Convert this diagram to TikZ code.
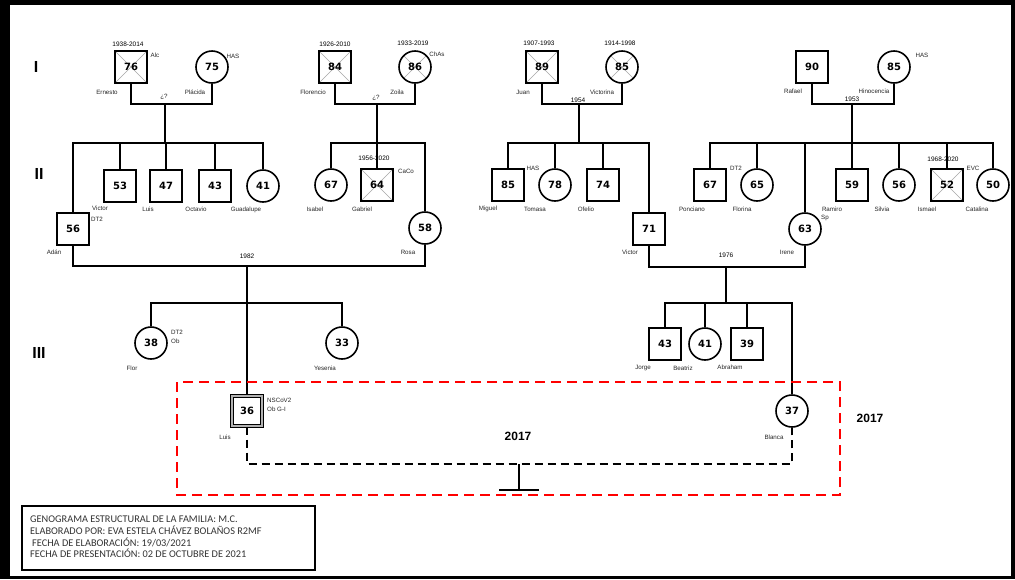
\documentclass[tikz,border=0pt]{standalone}
\usepackage{fontspec}
\setmainfont{Liberation Sans}
\newfontfamily\numfont{DejaVu Sans}
\newfontfamily\legfont{Carlito}
\begin{document}
\begin{tikzpicture}[x=1pt,y=-1pt,
  rel/.style={line width=1.6pt},
  ind/.style={draw, line width=1.6pt, minimum size=32pt, inner sep=0pt, font=\numfont\bfseries\fontsize{10}{10}\selectfont},
  male/.style={ind, rectangle},
  fem/.style={ind, circle},
  dead/.style={path picture={\draw[gray!70, line width=0.6pt] (path picture bounding box.north west) -- (path picture bounding box.south east) (path picture bounding box.north east) -- (path picture bounding box.south west);}},
  lbl/.style={font=\fontsize{6.2}{7}\selectfont, inner sep=0pt, text=black!85},
  yr/.style={font=\fontsize{6.5}{7}\selectfont, inner sep=0pt},
  gen/.style={font=\bfseries\fontsize{16}{16}\selectfont, inner sep=0pt},
  big/.style={font=\bfseries\fontsize{12}{12}\selectfont, inner sep=0pt},
  reddash/.style={draw=red, line width=1.6pt, dash pattern=on 10pt off 6pt},
  blkdash/.style={line width=1.6pt, dash pattern=on 8pt off 5pt}
]
\useasboundingbox (0,0) rectangle (1015,579);
\fill[black] (0,0) rectangle (1015,579);
\fill[white] (10,5) rectangle (1011,576);

% generation labels
\node[gen] (g1) at (36,67) {I};
\node[gen] (g2) at (39,174) {II};
\node[gen] (g3) at (39,353) {III};

% ---------- Generation I ----------
\node[male,dead] (ern) at (131,67) {76};
\node[fem] (pla) at (212,67) {75};
\node[male,dead] (flo) at (335,67) {84};
\node[fem,dead] (zoi) at (415,67) {86};
\node[male,dead] (jua) at (542,67) {89};
\node[fem,dead] (vto) at (622,67) {85};
\node[male] (raf) at (812,67) {90};
\node[fem] (hin) at (894,67) {85};

\node[yr] (t1) at (128,44) {1938-2014};
\node[lbl] (t2) at (155,55) {Alc};
\node[lbl] (t3) at (107,92) {Ernesto};
\node[lbl] (t4) at (195,92) {Plácida};
\node[lbl] (t5) at (233,56) {HAS};
\node[lbl] (t6) at (164,97) {¿?};
\node[yr] (t7) at (335,44) {1926-2010};
\node[yr] (t8) at (413,43) {1933-2019};
\node[lbl] (t9) at (437,54) {ChAs};
\node[lbl] (t10) at (313,92) {Florencio};
\node[lbl] (t11) at (397,92) {Zoila};
\node[lbl] (t12) at (376,98) {¿?};
\node[yr] (t13) at (539,43) {1907-1993};
\node[yr] (t14) at (620,43) {1914-1998};
\node[lbl] (t15) at (523,92) {Juan};
\node[lbl] (t16) at (602,92) {Victorina};
\node[yr] (t17) at (578,100) {1954};
\node[lbl] (t18) at (793,91) {Rafael};
\node[lbl] (t19) at (874,91) {Hinocencia};
\node[lbl] (t20) at (922,55) {HAS};
\node[yr] (t21) at (852,99) {1953};

% ---------- Generation II ----------
\node[male] (adan) at (73,229) {56};
\node[male] (vic1) at (120,186) {53};
\node[male] (luis1) at (166,186) {47};
\node[male] (oct) at (215,186) {43};
\node[fem] (gua) at (263,186) {41};
\node[fem] (isa) at (331,185) {67};
\node[male,dead] (gab) at (377,185) {64};
\node[fem] (rosa) at (425,228) {58};
\node[male] (mig) at (508,185) {85};
\node[fem] (tom) at (555,185) {78};
\node[male] (ofe) at (603,185) {74};
\node[male] (vic2) at (649,229) {71};
\node[male] (pon) at (710,185) {67};
\node[fem] (flr) at (757,185) {65};
\node[fem] (ire) at (805,229) {63};
\node[male] (ram) at (852,185) {59};
\node[fem] (sil) at (899,185) {56};
\node[male,dead] (ism) at (947,185) {52};
\node[fem] (cat) at (993,185) {50};

\node[lbl] (u1) at (100,208) {Victor};
\node[lbl] (u2) at (97,219) {DT2};
\node[lbl] (u3) at (148,209) {Luis};
\node[lbl] (u4) at (196,209) {Octavio};
\node[lbl] (u5) at (246,210) {Guadalupe};
\node[lbl] (u6) at (54,252) {Adán};
\node[yr] (u7) at (247,256) {1982};
\node[lbl] (u8) at (315,209) {Isabel};
\node[yr] (u9) at (374,158) {1956-2020};
\node[lbl] (u10) at (406,171) {CaCo};
\node[lbl] (u11) at (362,209) {Gabriel};
\node[lbl] (u12) at (408,252) {Rosa};
\node[lbl] (u13) at (488,209) {Miguel};
\node[lbl] (u14) at (533,168) {HAS};
\node[lbl] (u15) at (535,209) {Tomasa};
\node[lbl] (u16) at (586,209) {Ofelio};
\node[lbl] (u17) at (630,252) {Victor};
\node[lbl] (u18) at (692,209) {Ponciano};
\node[lbl] (u19) at (736,168) {DT2};
\node[lbl] (u20) at (742,209) {Florina};
\node[lbl] (u21) at (832,209) {Ramiro};
\node[lbl] (u22) at (825,218) {Sp};
\node[lbl] (u23) at (787,252) {Irene};
\node[yr] (u24) at (726,255) {1976};
\node[lbl] (u25) at (882,209) {Silvia};
\node[yr] (u26) at (943,159) {1968-2020};
\node[lbl] (u27) at (973,168) {EVC};
\node[lbl] (u28) at (927,209) {Ismael};
\node[lbl] (u29) at (977,209) {Catalina};

% ---------- Generation III ----------
\node[fem] (flor) at (151,343) {38};
\node[fem] (yes) at (342,343) {33};
\node[male] (jor) at (665,344) {43};
\node[fem] (bea) at (705,344) {41};
\node[male] (abr) at (747,344) {39};
\node[ind, rectangle, minimum size=30pt, line width=1.2pt, double=gray!60, double distance=2pt] (luis) at (247,411) {36};
\node[fem] (bla) at (792,411) {37};

\node[lbl, anchor=west] (v1) at (171,332) {DT2};
\node[lbl, anchor=west] (v2) at (171,341) {Ob};
\node[lbl] (v3) at (132,368) {Flor};
\node[lbl] (v4) at (325,368) {Yesenia};
\node[lbl] (v5) at (643,368) {Jorge};
\node[lbl] (v6) at (683,368) {Beatriz};
\node[lbl] (v7) at (730,367) {Abraham};
\node[lbl, anchor=west] (v8) at (267,400) {NSCoV2};
\node[lbl, anchor=west] (v9) at (267,409) {Ob G-I};
\node[lbl] (v10) at (225,437) {Luis};
\node[lbl] (v11) at (774,437) {Blanca};
\node[big] (v12) at (518,436) {2017};
\node[big] (v13) at (870,418) {2017};

% ---------- connectors ----------
\coordinate (c1) at (165,104);
\coordinate (s1) at (165,143);
\draw[rel] (ern.south) |- (c1) -| (pla.south);
\draw[rel] (c1) -- (s1);
\draw[rel] (adan.north) |- (s1) -| (gua.north);
\foreach \n in {vic1,luis1,oct} \draw[rel] (\n.north) -- (\n.north |- s1);

\coordinate (c2) at (377,104);
\coordinate (s2) at (377,143);
\draw[rel] (flo.south) |- (c2) -| (zoi.south);
\draw[rel] (c2) -- (gab.north);
\draw[rel] (isa.north) |- (s2) -| (rosa.north);

\coordinate (c3) at (579,104);
\coordinate (s3) at (579,143);
\draw[rel] (jua.south) |- (c3) -| (vto.south);
\draw[rel] (c3) -- (s3);
\draw[rel] (mig.north) |- (s3) -| (vic2.north);
\foreach \n in {tom,ofe} \draw[rel] (\n.north) -- (\n.north |- s3);

\coordinate (c4) at (852,104);
\coordinate (s4) at (852,143);
\draw[rel] (raf.south) |- (c4) -| (hin.south);
\draw[rel] (c4) -- (ram.north);
\draw[rel] (pon.north) |- (s4) -| (cat.north);
\foreach \n in {flr,ire,sil,ism} \draw[rel] (\n.north) -- (\n.north |- s4);

\coordinate (c5) at (247,266);
\coordinate (s5) at (247,303);
\draw[rel] (adan.south) |- (c5) -| (rosa.south);
\draw[rel] (c5) -- (luis.north);
\draw[rel] (flor.north) |- (s5) -| (yes.north);

\coordinate (c6) at (726,267);
\coordinate (s6) at (726,303);
\draw[rel] (vic2.south) |- (c6) -| (ire.south);
\draw[rel] (c6) -- (s6);
\draw[rel] (jor.north) |- (s6) -| (bla.north);
\foreach \n in {bea,abr} \draw[rel] (\n.north) -- (\n.north |- s6);

\coordinate (d1) at (519,464);
\coordinate (d2) at (519,490);
\draw[blkdash] (luis.south) |- (d1) -| (bla.south);
\draw[rel] (d1) -- (d2);
\draw[rel] ([xshift=-20pt]d2) -- ([xshift=20pt]d2);

\draw[reddash] (177,382) rectangle (840,495);

% legend
\draw[line width=1.2pt] (22,506) rectangle (315,570);
\node[anchor=north west, align=left, inner sep=0pt, text=black!80,
      font=\legfont\fontsize{10.3}{11.7}\selectfont] (leg) at (30,516)
  {GENOGRAMA ESTRUCTURAL DE LA FAMILIA: M.C.\\
   ELABORADO POR: EVA ESTELA CHÁVEZ BOLAÑOS R2MF\\
   \hspace*{2pt}FECHA DE ELABORACIÓN: 19/03/2021\\
   FECHA DE PRESENTACIÓN: 02 DE OCTUBRE DE 2021};
\end{tikzpicture}
\end{document}
